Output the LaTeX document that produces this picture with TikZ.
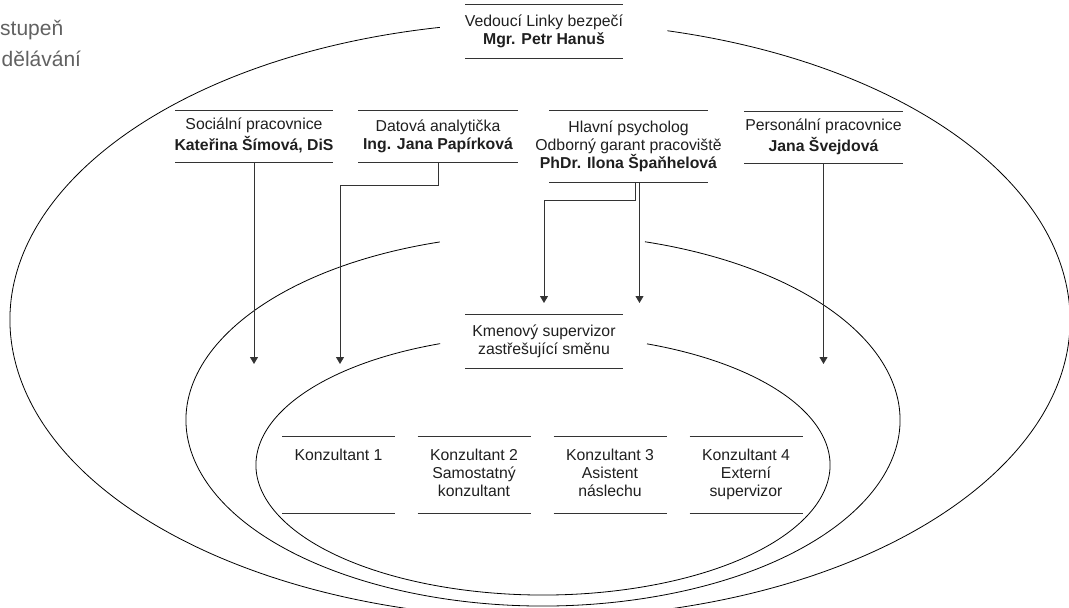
\documentclass[tikz,border=0pt]{standalone}
\usepackage{fontspec}
\setmainfont{Liberation Sans}
\usetikzlibrary{arrows.meta}
\begin{document}
\begin{tikzpicture}[x=1pt,y=1pt,
  every node/.style={font=\fontsize{15.8}{18}\selectfont, text=black!88},
  boxline/.style={draw=black!80, line width=1.1pt},
  hbox/.style={inner sep=0pt, align=center, append after command={
     ([xshift=-#1]\tikzlastnode.north) edge[boxline] ([xshift=#1]\tikzlastnode.north)
     ([xshift=-#1]\tikzlastnode.south) edge[boxline] ([xshift=#1]\tikzlastnode.south)}},
  conn/.style={draw=black!80, line width=0.9pt, -{Triangle[width=8pt,length=7pt]}},
  oval/.style={draw=black, line width=0.8pt},
  side/.style={font=\fontsize{21}{25}\selectfont, text=black!62, anchor=base west, inner sep=0pt}
]
\useasboundingbox (0,0) rectangle (1069,-608);
\clip (0,0) rectangle (1069,-608);

% ellipses
\draw[oval] ([shift={(100.9:530pt and 298pt)}]540,-320) arc[start angle=100.9, end angle=436.1, x radius=530pt, y radius=298pt];
\draw[oval] ([shift={(106.8:357pt and 186pt)}]543,-420) arc[start angle=106.8, end angle=433.4, x radius=357pt, y radius=186pt];
\draw[oval] ([shift={(111:287pt and 130pt)}]543,-465) arc[start angle=111, end angle=428.75, x radius=287pt, y radius=130pt];

% side text
\node[side] (t1) at (0,-35) {stupeň};
\node[side] (t2) at (1.5,-66.7) {dělávání};

% boxes
\node[hbox=79pt, minimum height=53pt] (top) at (544,-31.5) {\strut Vedoucí Linky bezpečí\\\textbf{Mgr. Petr Hanuš}\strut};
\node[hbox=79pt, minimum height=51pt] (soc) at (254,-136.5) {\strut Sociální pracovnice\\\textbf{Kateřina Šímová, DiS}\strut};
\node[hbox=80pt, minimum height=51pt] (dat) at (438,-136.5) {\strut Datová analytička\\\textbf{Ing. Jana Papírková}\strut};
\node[hbox=79.5pt, minimum height=71pt] (psy) at (628.5,-146.5) {\strut Hlavní psycholog\\Odborný garant pracoviště\\\textbf{PhDr. Ilona Špaňhelová}\strut};
\node[hbox=79.5pt, minimum height=51.3pt] (per) at (823.5,-137.3) {\strut Personální pracovnice\\\textbf{Jana Švejdová}\strut};
\node[hbox=79pt, minimum height=53pt] (kme) at (544,-341.5) {\strut Kmenový supervizor\\zastřešující směnu\strut};

\node[hbox=56.5pt, minimum height=76pt] (k1) at (338.5,-475) {\strut Konzultant 1\\\strut\\\strut};
\node[hbox=56.5pt, minimum height=76pt] (k2) at (474,-475) {\strut Konzultant 2\\Samostatný\\konzultant\strut};
\node[hbox=56.5pt, minimum height=76pt] (k3) at (610,-475) {\strut Konzultant 3\\Asistent\\náslechu\strut};
\node[hbox=56.5pt, minimum height=76pt] (k4) at (746,-475) {\strut Konzultant 4\\Externí\\supervizor\strut};

% connectors
\coordinate (a1) at (254,-364);
\coordinate (a2) at (340,-364);
\coordinate (a3) at (544,-303);
\coordinate (a4) at (639.5,-303);
\coordinate (a5) at (823.5,-364);
\draw[conn] (soc.south) -- (a1);
\draw[conn] (dat.south) -- ++(0,-23) -| (a2);
\draw[conn] ([xshift=7pt]psy.south) -- ++(0,-18) -| (a3);
\draw[conn] ([xshift=11pt]psy.south) -- (a4);
\draw[conn] (per.south) -- (a5);
\end{tikzpicture}
\end{document}
